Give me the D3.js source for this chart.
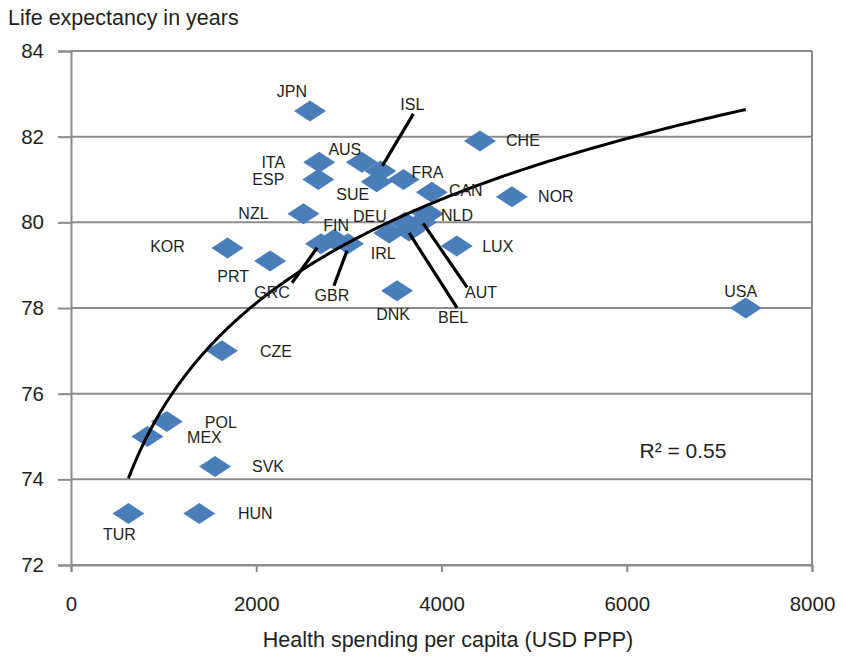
<!DOCTYPE html>
<html>
<head>
<meta charset="utf-8">
<script src="https://cdn.jsdelivr.net/npm/d3@7"></script>
<style>
  html, body { margin: 0; padding: 0; background: #fff; }
  svg { display: block; font-family: "Liberation Sans", Arial, Helvetica, sans-serif; }
</style>
</head>
<body>
<svg id="chart" width="843" height="658"></svg>
<script>
// OECD countries: health spending per capita (USD PPP) vs life expectancy (years)
const countries = ["JPN","ISL","CHE","AUS","ITA","ESP","FRA","SUE","CAN","NOR","NZL","DEU","NLD","AUT","BEL","IRL","FIN","GRC","GBR","KOR","LUX","PRT","USA","DNK","CZE","POL","MEX","SVK","HUN","TUR"];
const spending   = [2580, 3340, 4415, 3140, 2680, 2670, 3590, 3300, 3895, 4760, 2510, 3605, 3855, 3780, 3650, 3435, 2840, 2700, 2990, 1690, 4165, 2150, 7285, 3520, 1630, 1035, 825, 1555, 1385, 620];
const lifeExp    = [82.6, 81.2, 81.9, 81.4, 81.4, 81.0, 81.0, 80.95, 80.7, 80.6, 80.2, 80.0, 80.2, 80.0, 79.8, 79.75, 79.6, 79.5, 79.5, 79.4, 79.45, 79.1, 78.0, 78.4, 77.0, 75.35, 75.0, 74.3, 73.2, 73.2];

const xTicks = [0, 2000, 4000, 6000, 8000];
const yTicks = [72, 74, 76, 78, 80, 82, 84];

// logarithmic trend: y = a * ln(x) + b
const trendA = 3.495, trendB = 51.55;
const r2Text = "R² = 0.55";

// label placement (pixel offsets from each marker) and leader lines
const labelOffset = {
  JPN:[-18,-19], ISL:[32,-66], CHE:[43,0], AUS:[-17,-13], ITA:[-46,0], ESP:[-50,0],
  FRA:[24,-7], SUE:[-24,13], CAN:[34,-2], NOR:[44,0], NZL:[-50,0], DEU:[-35,-6],
  NLD:[29,2], AUT:[60,70], BEL:[44,87], IRL:[-6,20], FIN:[2,-14], GRC:[-49,49],
  GBR:[-16,52], KOR:[-60,-2], LUX:[41,1], PRT:[-37,16], USA:[-5,-17], DNK:[-4,24],
  CZE:[54,1], POL:[54,1], MEX:[57,1], SVK:[53,0], HUN:[56,0], TUR:[-9,21]
};
const leaders = {
  ISL:[[2,-5],[33,-57]], AUT:[[2,1],[46,65]], BEL:[[0,2],[48,77]],
  GRC:[[-4,4],[-29,39]], GBR:[[-1,7],[-14,42]]
};

const svg = d3.select("#chart");
const plotLeft = 71, plotRight = 812, plotTop = 51, plotBottom = 565;
const x = d3.scaleLinear().domain([0, 8000]).range([plotLeft, plotRight]);
const y = d3.scaleLinear().domain([72, 84]).range([plotBottom, plotTop]);

const gridColor = "#8c8c8c";
const textColor = "#231f20";

// horizontal gridlines
svg.append("g").selectAll("line").data(yTicks).join("line")
  .attr("x1", plotLeft).attr("x2", plotRight)
  .attr("y1", d => y(d)).attr("y2", d => y(d))
  .attr("stroke", gridColor).attr("stroke-width", 2);

// right border
svg.append("line").attr("x1", plotRight).attr("x2", plotRight).attr("y1", plotTop).attr("y2", plotBottom)
  .attr("stroke", gridColor).attr("stroke-width", 2);

// axes
const yAxis = svg.append("g").attr("transform", `translate(${plotLeft},0)`)
  .call(d3.axisLeft(y).tickValues(yTicks).tickSize(13).tickPadding(14).tickFormat(d3.format("d")));
const xAxis = svg.append("g").attr("transform", `translate(0,${plotBottom})`)
  .call(d3.axisBottom(x).tickValues(xTicks).tickSize(7).tickPadding(24).tickFormat(d3.format("d")));
[yAxis, xAxis].forEach(g => {
  g.select(".domain").attr("stroke", gridColor).attr("stroke-width", 2);
  g.selectAll(".tick line").attr("stroke", gridColor).attr("stroke-width", 2);
  g.selectAll(".tick text").attr("fill", textColor).style("font-size", "20.5px")
    .style("font-family", "'Liberation Sans', Arial, sans-serif");
});

// axis titles
svg.append("text").attr("x", 8).attr("y", 25).attr("fill", textColor)
  .style("font-size", "21.5px").text("Life expectancy in years");
svg.append("text").attr("x", 448).attr("y", 647).attr("text-anchor", "middle")
  .attr("fill", textColor).style("font-size", "21.5px").text("Health spending per capita (USD PPP)");

// markers
const pts = countries.map((c, i) => ({ c, sx: x(spending[i]), sy: y(lifeExp[i]) }));
const hw = 16, hh = 10.5;
svg.append("g").selectAll("path").data(pts).join("path")
  .attr("d", d => `M${d.sx - hw},${d.sy}L${d.sx},${d.sy - hh}L${d.sx + hw},${d.sy}L${d.sx},${d.sy + hh}Z`)
  .attr("fill", "#4a7ebb");

// trend curve over the spending range
const xMin = d3.min(spending), xMax = d3.max(spending);
const trendPts = d3.range(0, 201).map(k => {
  const v = xMin * Math.pow(xMax / xMin, k / 200);
  return [v, trendA * Math.log(v) + trendB];
});
svg.append("path").datum(trendPts)
  .attr("d", d3.line().x(d => x(d[0])).y(d => y(d[1])).curve(d3.curveLinear))
  .attr("fill", "none").attr("stroke", "#000").attr("stroke-width", 3);

// leader lines
svg.append("g").selectAll("line").data(pts.filter(d => leaders[d.c])).join("line")
  .attr("x1", d => d.sx + leaders[d.c][0][0]).attr("y1", d => d.sy + leaders[d.c][0][1])
  .attr("x2", d => d.sx + leaders[d.c][1][0]).attr("y2", d => d.sy + leaders[d.c][1][1])
  .attr("stroke", "#000").attr("stroke-width", 3.2);

// country labels
svg.append("g").selectAll("text").data(pts).join("text")
  .attr("x", d => d.sx + labelOffset[d.c][0])
  .attr("y", d => d.sy + labelOffset[d.c][1])
  .attr("text-anchor", "middle").attr("dominant-baseline", "central")
  .attr("fill", textColor).style("font-size", "16px")
  .text(d => d.c);

// fit statistic
svg.append("text").attr("x", 683).attr("y", 450).attr("text-anchor", "middle")
  .attr("dominant-baseline", "central").attr("fill", textColor)
  .style("font-size", "21px").text(r2Text);
</script>
</body>
</html>
